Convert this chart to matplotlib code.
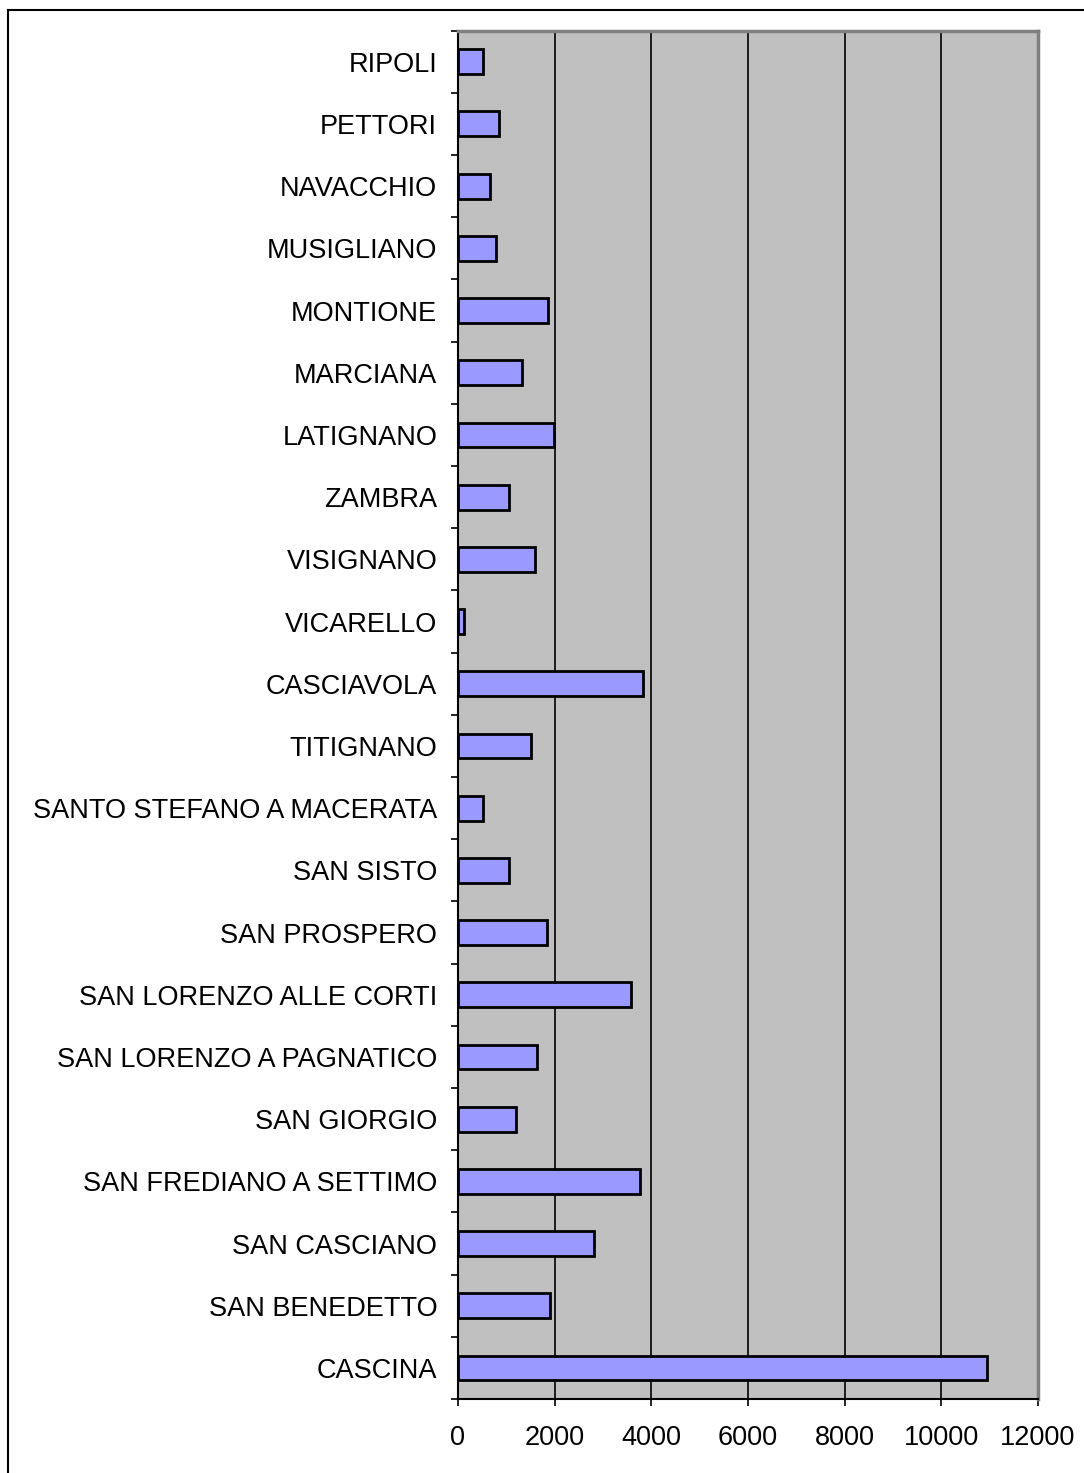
import numpy as np
import matplotlib.pyplot as plt
from matplotlib.lines import Line2D

# categories listed bottom to top
frazioni = ['CASCINA', 'SAN BENEDETTO', 'SAN CASCIANO', 'SAN FREDIANO A SETTIMO',
            'SAN GIORGIO', 'SAN LORENZO A PAGNATICO', 'SAN LORENZO ALLE CORTI',
            'SAN PROSPERO', 'SAN SISTO', 'SANTO STEFANO A MACERATA', 'TITIGNANO',
            'CASCIAVOLA', 'VICARELLO', 'VISIGNANO', 'ZAMBRA', 'LATIGNANO',
            'MARCIANA', 'MONTIONE', 'MUSIGLIANO', 'NAVACCHIO', 'PETTORI', 'RIPOLI']
abitanti = [10950, 1910, 2814, 3766, 1207, 1634, 3580, 1848, 1055, 524, 1503,
            3835, 131, 1593, 1048, 1979, 1317, 1855, 793, 662, 842, 524]
xticks = [0, 2000, 4000, 6000, 8000, 10000, 12000]

plt.rcParams['font.family'] = ['Liberation Sans', 'DejaVu Sans']

fig = plt.figure(figsize=(10.84, 14.73), dpi=100)
ax = fig.add_axes([0.4225, 0.0502, 0.5351, 0.9290])

y = np.arange(len(frazioni))
ax.barh(y, abitanti, height=0.4, color='#9999FF', edgecolor='black', linewidth=2, zorder=3)

ax.set_facecolor('#C0C0C0')
ax.set_xlim(0, 12000)
ax.set_ylim(-0.5, len(frazioni) - 0.5)
ax.set_xticks(xticks)
ax.set_xticklabels([str(v) for v in xticks], fontsize=19.5)
ax.xaxis.grid(True, color='black', linewidth=1.2, zorder=1)

ax.set_yticks(y)
ax.set_yticklabels(frazioni, fontsize=19.5)
ax.set_yticks(np.arange(-0.5, len(frazioni), 1), minor=True)
ax.tick_params(axis='y', which='major', length=0, pad=15)
ax.tick_params(axis='y', which='minor', length=5, width=1.2, direction='out')
ax.tick_params(axis='x', which='major', length=5, width=1.2, direction='out', pad=14)

for side in ['top', 'right']:
    ax.spines[side].set_color('#808080')
    ax.spines[side].set_linewidth(2.5)
for side in ['left', 'bottom']:
    ax.spines[side].set_color('black')
    ax.spines[side].set_linewidth(1.5)

# outer chart frame (top and left edges visible)
fig.add_artist(Line2D([8 / 1084, 1], [1 - 10 / 1473, 1 - 10 / 1473],
                      color='black', linewidth=1.5, transform=fig.transFigure))
fig.add_artist(Line2D([8 / 1084, 8 / 1084], [0, 1 - 10 / 1473],
                      color='black', linewidth=1.5, transform=fig.transFigure))

plt.savefig('out.png', dpi=100)
